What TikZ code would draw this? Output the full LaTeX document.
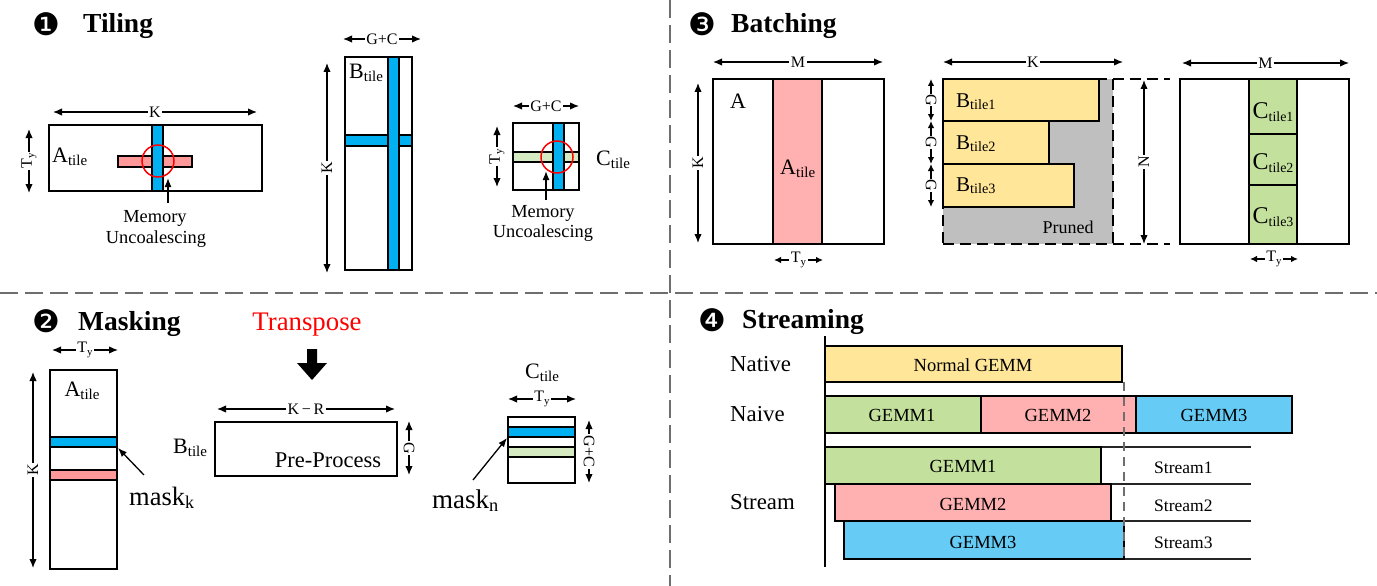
\documentclass[tikz,border=0pt]{standalone}
\usepackage{fontspec}
\setmainfont{Liberation Serif}
\newfontfamily\dingfont{DejaVu Sans}
\usetikzlibrary{arrows.meta}
\definecolor{tblue}{HTML}{00B0F0}
\definecolor{tpink}{HTML}{FF9999}
\definecolor{tgreen}{HTML}{D6EAC2}
\definecolor{bpink}{HTML}{FFB0B0}
\definecolor{byellow}{HTML}{FFE699}
\definecolor{bgray}{HTML}{BFBFBF}
\definecolor{bgreen}{HTML}{C3E19C}
\definecolor{sblue}{HTML}{66CCF5}
\definecolor{sepgray}{HTML}{6E6E6E}
\newcommand\fs[1]{\fontsize{#1}{#1}\selectfont}
\newcommand\tsub[3][0.68]{#2\raisebox{-0.3ex}{\scalebox{#1}{#3}}}
\tikzset{
 box/.style={draw=black,line width=1.6pt},
 band/.style={draw=black,line width=1.4pt},
 dimarr/.style={{Latex[length=9pt,width=7.5pt]}-{Latex[length=9pt,width=7.5pt]},line width=1.3pt},
 smalldim/.style={{Latex[length=7pt,width=6.5pt]}-{Latex[length=7pt,width=6.5pt]},line width=1.3pt},
 onearr/.style={-{Latex[length=9pt,width=7pt]},line width=1.3pt},
 dimlbl/.style={fill=white,inner sep=1.5pt,font=\fs{16}},
 txt/.style={inner sep=0pt},
 sep/.style={draw=sepgray,line width=2.2pt,dash pattern=on 18pt off 7pt},
 pdash/.style={draw=black,line width=1.6pt,dash pattern=on 11pt off 6pt},
 sline/.style={draw=black!85,line width=1.2pt},
 vdash/.style={draw=sepgray,line width=1.4pt,dash pattern=on 9pt off 6pt},
 circ/.style={draw=red,line width=1.5pt},
 dingnum/.style={inner sep=0pt,font=\dingfont\fs{31}},
}
\begin{document}
\begin{tikzpicture}[x=1pt,y=-1pt]
\useasboundingbox (0,0) rectangle (1377,586);
\fill[white] (0,0) rectangle (1377,586);

% ---------- separators
\coordinate (sh1) at (0,293); \coordinate (sh2) at (1377,293);
\coordinate (sv1) at (670,0); \coordinate (sv2) at (670,586);
\draw[sep] (sh1) -- (sh2);
\draw[sep] (sv1) -- (sv2);

% ---------- titles
\node[dingnum] (n1) at (46,24) {❶};
\node[txt,anchor=base west] (t1) at (83,33) {\fs{27.5}\bfseries Tiling};
\node[dingnum] (n2) at (46,321) {❷};
\node[txt,anchor=base west] (t2) at (78,330) {\fs{27.5}\bfseries Masking};
\node[dingnum] (n3) at (702.5,24) {❸};
\node[txt,anchor=base west] (t3) at (731,33) {\fs{27.5}\bfseries Batching};
\node[dingnum] (n4) at (712,320) {❹};
\node[txt,anchor=base west] (t4) at (742,328) {\fs{27.5}\bfseries Streaming};

% ================= 1 Tiling
% A tile
\draw[box] (49,125) rectangle (262,191);
\filldraw[fill=tpink,band] (118,156) rectangle (192,167);
\filldraw[fill=tblue,band] (152,125) rectangle (163,191);
\draw[circ] (158,161) circle (16pt);
\node[txt,anchor=base west,font=\fs{22}] (atile1) at (52,162) {\tsub{A}{tile}};
\coordinate (k1a) at (53,112); \coordinate (k1b) at (257,112);
\draw[dimarr] (k1a) -- (k1b) node[midway,dimlbl] (k1l) {K};
\coordinate (ty1a) at (29,129); \coordinate (ty1b) at (29,193);
\draw[dimarr] (ty1a) -- (ty1b) node[midway,dimlbl,rotate=90] (ty1l) {\tsub{T}{y}};
\node[txt,anchor=base,font=\fs{18.4}] (mem1) at (155,222) {Memory};
\node[txt,anchor=base,font=\fs{18.4}] (unc1) at (156,243) {Uncoalescing};
\coordinate (m1s) at (168,203); \coordinate (m1t) at (168,178);
\draw[onearr] (m1s) -- (m1t);

% B tile
\draw[box] (345,57) rectangle (412,270);
\filldraw[fill=tblue,band] (345,135) rectangle (412,146);
\filldraw[fill=tblue,band] (388,57) rectangle (399,270);
\node[txt,anchor=base west,font=\fs{22}] (btile1) at (349,78) {\tsub{B}{tile}};
\coordinate (gc1a) at (343,39); \coordinate (gc1b) at (421,39);
\draw[dimarr] (gc1a) -- (gc1b) node[midway,dimlbl] (gc1l) {G+C};
\coordinate (k2a) at (327,63); \coordinate (k2b) at (327,273);
\draw[dimarr] (k2a) -- (k2b) node[midway,dimlbl,rotate=90] (k2l) {K};

% C tile
\draw[box] (513,123) rectangle (579,190);
\filldraw[fill=tgreen,band] (513,152) rectangle (579,162);
\filldraw[fill=tblue,band] (553,123) rectangle (564,190);
\draw[circ] (557,157) circle (16pt);
\node[txt,anchor=base west,font=\fs{22}] (ctile1) at (596,165) {\tsub{C}{tile}};
\coordinate (gc2a) at (513,106); \coordinate (gc2b) at (579,106);
\draw[dimarr] (gc2a) -- (gc2b) node[midway,dimlbl] (gc2l) {G+C};
\coordinate (ty2a) at (497,126); \coordinate (ty2b) at (497,187);
\draw[dimarr] (ty2a) -- (ty2b) node[midway,dimlbl,rotate=90] (ty2l) {\tsub{T}{y}};
\node[txt,anchor=base,font=\fs{18.4}] (mem2) at (543,217) {Memory};
\node[txt,anchor=base,font=\fs{18.4}] (unc2) at (543,237) {Uncoalescing};
\coordinate (m2s) at (546,200); \coordinate (m2t) at (546,171);
\draw[onearr] (m2s) -- (m2t);

% ================= 3 Batching
% A
\draw[box] (713,79) rectangle (884,244);
\filldraw[fill=bpink,box] (773,79) rectangle (822,244);
\node[txt,anchor=base,font=\fs{22}] (amat) at (738,108) {A};
\node[txt,anchor=base west,font=\fs{22}] (atile3) at (780,174) {\tsub{A}{tile}};
\coordinate (m3a) at (713,62); \coordinate (m3b) at (883,62);
\draw[dimarr] (m3a) -- (m3b) node[midway,dimlbl] (m3l) {M};
\coordinate (k3a) at (698,83); \coordinate (k3b) at (698,243);
\draw[dimarr] (k3a) -- (k3b) node[midway,dimlbl,rotate=90] (k3l) {K};
\coordinate (ty3a) at (774,260); \coordinate (ty3b) at (823,260);
\draw[smalldim] (ty3a) -- (ty3b) node[midway,dimlbl] (ty3l) {\tsub{T}{y}};

% B
\fill[bgray] (943,79) rectangle (1113,244);
\draw[pdash] (943,79) -- (1170,79);
\draw[pdash] (943,244) -- (1170,244);
\draw[pdash] (943,79) -- (943,244);
\draw[pdash] (1113,79) -- (1113,244);
\filldraw[fill=byellow,box] (943,79) rectangle (1099,121);
\filldraw[fill=byellow,box] (943,121) rectangle (1049,164);
\filldraw[fill=byellow,box] (943,164) rectangle (1074,207);
\node[txt,anchor=base west,font=\fs{21}] (bt1) at (956,107) {\tsub{B}{tile1}};
\node[txt,anchor=base west,font=\fs{21}] (bt2) at (956,149) {\tsub{B}{tile2}};
\node[txt,anchor=base west,font=\fs{21}] (bt3) at (956,191) {\tsub{B}{tile3}};
\node[txt,anchor=base,font=\fs{18}] (pruned) at (1068,233) {Pruned};
\coordinate (k4a) at (943,62); \coordinate (k4b) at (1123,62);
\draw[dimarr] (k4a) -- (k4b) node[midway,dimlbl] (k4l) {K};
\coordinate (g1a) at (931,79); \coordinate (g1b) at (931,121);
\coordinate (g2a) at (931,121); \coordinate (g2b) at (931,164);
\coordinate (g3a) at (931,164); \coordinate (g3b) at (931,207);
\draw[smalldim] (g1a) -- (g1b) node[midway,dimlbl,inner sep=0.5pt,rotate=-90] (g1l) {G};
\draw[smalldim] (g2a) -- (g2b) node[midway,dimlbl,inner sep=0.5pt,rotate=-90] (g2l) {G};
\draw[smalldim] (g3a) -- (g3b) node[midway,dimlbl,inner sep=0.5pt,rotate=-90] (g3l) {G};
\coordinate (na) at (1144,80); \coordinate (nb) at (1144,244);
\draw[dimarr] (na) -- (nb) node[midway,dimlbl,rotate=90] (nl) {N};

% C
\draw[box] (1180,79) rectangle (1349,244);
\filldraw[fill=bgreen,box] (1249,79) rectangle (1297,244);
\draw[box] (1249,134) -- (1297,134);
\draw[box] (1249,185) -- (1297,185);
\node[txt,font=\fs{24}] (ct1) at (1273,112) {\tsub[0.58]{C}{tile1}};
\node[txt,font=\fs{24}] (ct2) at (1273,163) {\tsub[0.58]{C}{tile2}};
\node[txt,font=\fs{24}] (ct3) at (1273,217) {\tsub[0.58]{C}{tile3}};
\coordinate (m5a) at (1182,63); \coordinate (m5b) at (1349,63);
\draw[dimarr] (m5a) -- (m5b) node[midway,dimlbl] (m5l) {M};
\coordinate (ty5a) at (1250,259); \coordinate (ty5b) at (1298,259);
\draw[smalldim] (ty5a) -- (ty5b) node[midway,dimlbl] (ty5l) {\tsub{T}{y}};

% ================= 2 Masking
\draw[box] (50,370) rectangle (117,569);
\filldraw[fill=tblue,band] (50,437) rectangle (117,447);
\filldraw[fill=tpink,band] (50,470) rectangle (117,480);
\node[txt,anchor=base,font=\fs{22}] (atile2) at (82,396) {\tsub{A}{tile}};
\coordinate (ty6a) at (52,350); \coordinate (ty6b) at (118,350);
\draw[dimarr] (ty6a) -- (ty6b) node[midway,dimlbl] (ty6l) {\tsub{T}{y}};
\coordinate (k6a) at (33,372); \coordinate (k6b) at (33,568);
\draw[dimarr] (k6a) -- (k6b) node[midway,dimlbl,rotate=90] (k6l) {K};
\node[txt,anchor=base west,font=\fs{26.5}] (maskk) at (129,505) {\tsub{mask}{k}};
\coordinate (mks) at (144,475); \coordinate (mkt) at (118,448);
\draw[onearr] (mks) -- (mkt);

\node[txt,anchor=base,font=\fs{26.8},text=red] (transp) at (307,330) {Transpose};
\fill[black] (307,349) -- (317,349) -- (317,363) -- (327,363) -- (312,380) -- (297,363) -- (307,363) -- cycle;

\draw[box] (215,422) rectangle (397,476);
\node[txt,anchor=base,font=\fs{22.5}] (prep) at (328,467) {Pre-Process};
\node[txt,anchor=base west,font=\fs{22}] (btile2) at (173,453) {\tsub{B}{tile}};
\coordinate (kra) at (217,409); \coordinate (krb) at (395,409);
\draw[dimarr] (kra) -- (krb) node[midway,dimlbl] (krl) {K\,−\,R};
\coordinate (g6a) at (409,421); \coordinate (g6b) at (409,475);
\draw[dimarr] (g6a) -- (g6b) node[midway,dimlbl,rotate=-90] (g6l) {G};

\draw[box] (508,417) rectangle (575,483);
\filldraw[fill=tblue,band] (508,427) rectangle (575,437);
\filldraw[fill=tgreen,band] (508,447) rectangle (575,457);
\node[txt,anchor=base west,font=\fs{22}] (ctile2) at (525,378) {\tsub{C}{tile}};
\coordinate (ty7a) at (508,399); \coordinate (ty7b) at (576,399);
\draw[dimarr] (ty7a) -- (ty7b) node[midway,dimlbl] (ty7l) {\tsub{T}{y}};
\coordinate (gc7a) at (589,420); \coordinate (gc7b) at (589,483);
\draw[dimarr] (gc7a) -- (gc7b) node[midway,dimlbl,rotate=-90] (gc7l) {G+C};
\node[txt,anchor=base west,font=\fs{27}] (maskn) at (432,508) {\tsub{mask}{n}};
\coordinate (mns) at (473,480); \coordinate (mnt) at (507,438);
\draw[onearr] (mns) -- (mnt);

% ================= 4 Streaming
\node[txt,anchor=base west,font=\fs{22.8}] (native) at (730,371) {Native};
\node[txt,anchor=base west,font=\fs{22.8}] (naive) at (730,421) {Naive};
\node[txt,anchor=base west,font=\fs{22.8}] (stream) at (730,509) {Stream};

\draw[sline] (825,447) -- (1251,447);
\draw[sline] (835,484) -- (1251,484);
\draw[sline] (844,521) -- (1251,521);
\draw[sline] (844,559) -- (1251,559);

\filldraw[fill=byellow,box] (825,346) rectangle (1122,382);
\filldraw[fill=bgreen,box] (825,396) rectangle (981,433);
\filldraw[fill=bpink,box] (981,396) rectangle (1136,433);
\filldraw[fill=sblue,box] (1136,396) rectangle (1292,433);
\filldraw[fill=bgreen,box] (825,447) rectangle (1101,484);
\filldraw[fill=bpink,box] (835,484) rectangle (1111,521);
\filldraw[fill=sblue,box] (844,521) rectangle (1124,559);

\node[txt,anchor=base,font=\fs{18.5}] (ng) at (973,371) {Normal GEMM};
\node[txt,anchor=base,font=\fs{18.5}] (nv1) at (902,421) {GEMM1};
\node[txt,anchor=base,font=\fs{18.5}] (nv2) at (1058,421) {GEMM2};
\node[txt,anchor=base,font=\fs{18.5}] (nv3) at (1214,421) {GEMM3};
\node[txt,anchor=base,font=\fs{18.5}] (st1) at (963,472) {GEMM1};
\node[txt,anchor=base,font=\fs{18.5}] (st2) at (973,510) {GEMM2};
\node[txt,anchor=base,font=\fs{18.5}] (st3) at (983,548) {GEMM3};
\node[txt,anchor=base west,font=\fs{17.5}] (sl1) at (1154,473) {Stream1};
\node[txt,anchor=base west,font=\fs{17.5}] (sl2) at (1154,511) {Stream2};
\node[txt,anchor=base west,font=\fs{17.5}] (sl3) at (1154,548) {Stream3};

\coordinate (ax1) at (825,336); \coordinate (ax2) at (825,567);
\draw[line width=1.6pt] (ax1) -- (ax2);
\coordinate (vd1) at (1124,382); \coordinate (vd2) at (1124,559);
\draw[vdash] (vd1) -- (vd2);
\end{tikzpicture}
\end{document}
